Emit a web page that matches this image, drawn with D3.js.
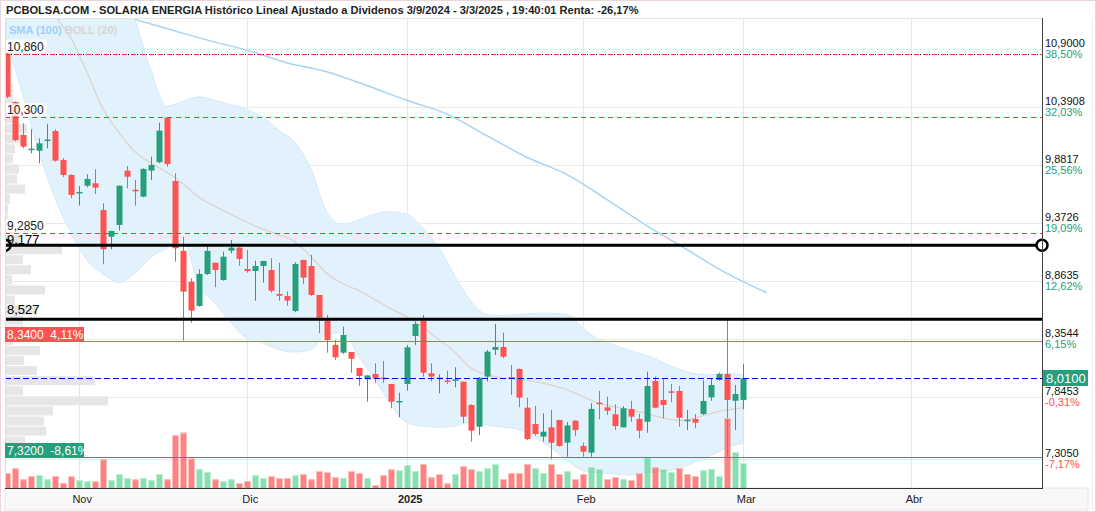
<!DOCTYPE html>
<html>
<head>
<meta charset="utf-8">
<script src="https://cdn.jsdelivr.net/npm/d3@7"></script>
<style>
body{margin:0;background:#fff}
svg{display:block;font-family:"Liberation Sans",Arial,sans-serif}
</style>
</head>
<body>
<svg id="chart" width="1096" height="512"></svg>
<script>
// daily candles, 21/10/2024 .. 3/3/2025 (one per trading day)
var opens  = [10.86,10.435,10.145,10.015,10.007,10.10,10.18,9.926,9.794,9.64,9.70,9.721,9.487,9.252,9.355,9.832,9.664,9.604,9.832,9.906,10.297,9.741,9.127,8.857,8.644,8.925,9.024,8.872,9.129,9.156,8.969,8.951,8.995,8.96,8.749,8.732,8.60,9.048,8.995,8.741,8.515,8.302,8.234,8.24,8.10,8.0,8.047,8.015,7.959,7.805,7.959,8.381,8.515,8.053,8.01,7.99,7.995,7.979,7.775,7.584,8.024,8.26,8.284,8.02,8.091,7.751,7.608,7.497,7.579,7.643,7.444,7.637,7.415,7.356,7.795,7.754,7.693,7.579,7.74,7.652,7.628,7.986,7.819,7.895,7.898,7.64,7.652,7.696,7.842,7.994,8.047,7.812,7.819]
var highs  = [10.87,10.44,10.248,10.195,10.116,10.242,10.195,9.941,9.80,9.697,9.80,9.844,9.546,9.305,9.70,9.873,9.75,9.853,9.955,10.253,10.30,9.809,9.252,8.887,8.966,9.165,9.024,9.121,9.223,9.16,9.136,9.042,9.04,9.063,9.024,8.77,9.027,9.05,9.092,8.741,8.565,8.345,8.462,8.24,8.10,8.035,8.141,8.161,7.96,7.883,8.302,8.506,8.565,8.141,8.044,8.076,8.106,7.98,7.78,8.02,8.258,8.486,8.41,8.126,8.095,7.839,7.766,7.702,7.731,7.645,7.626,7.64,7.444,7.79,7.898,7.848,7.781,7.766,7.812,7.696,8.067,8.024,8.001,7.959,7.942,7.731,7.696,7.992,8.009,8.058,8.521,7.95,8.135]
var lows   = [10.47,10.09,10.028,9.985,9.897,10.028,9.91,9.777,9.59,9.525,9.686,9.627,9.01,9.142,9.305,9.677,9.525,9.598,9.75,9.897,9.867,9.033,8.34,8.497,8.638,8.916,8.808,8.866,9.107,8.998,8.936,8.69,8.849,8.761,8.69,8.647,8.589,8.835,8.732,8.404,8.234,8.17,8.223,8.058,7.942,7.804,7.97,7.97,7.746,7.667,7.90,8.302,8.024,7.98,7.877,7.959,7.93,7.614,7.452,7.511,7.98,8.214,8.185,7.863,7.755,7.467,7.505,7.453,7.298,7.41,7.321,7.503,7.321,7.321,7.649,7.687,7.555,7.579,7.626,7.482,7.531,7.746,7.658,7.798,7.584,7.555,7.57,7.687,7.812,7.988,7.32,7.555,7.737]
var closes = [10.48,10.10,10.043,10.025,10.072,10.105,9.92,9.794,9.619,9.645,9.759,9.683,9.142,9.302,9.70,9.779,9.660,9.847,9.882,10.183,9.891,9.151,8.77,8.603,8.925,9.127,8.96,9.077,9.156,9.057,8.951,8.995,9.039,8.778,8.734,8.691,9.013,8.893,8.741,8.541,8.345,8.194,8.39,8.181,8.029,8.035,8.009,8.005,7.804,7.81,8.281,8.486,8.058,8.024,8.015,7.985,8.0,7.672,7.549,8.014,8.243,8.284,8.199,8.013,7.839,7.476,7.52,7.54,7.444,7.415,7.596,7.555,7.365,7.74,7.79,7.725,7.59,7.746,7.672,7.549,7.942,7.751,7.775,7.89,7.663,7.645,7.619,7.81,7.95,8.047,7.819,7.871,8.01]
// volume, relative units
var volumes = [15,19.7,8.7,12,13,8.7,12,5,11.7,7.7,6.7,6.7,28.7,7.7,14,10,8.7,10,7.7,14,8.7,53,55.3,29.5,18.7,16,8.7,6.7,8.7,5,7,12.7,10,12,10,10,12.7,14,8.7,17,16,10.7,10,17,15,10,3,13,18.7,17.7,23,17,24,10.7,14,4.7,14,21.7,18.7,16.7,19.7,24,9,15,15,24,20,15,24,14,17,9,14,21,19,9,11,9,8,15,30.7,20.7,19,16,20,14,12,17.7,19,12,70,36,25]

// Bollinger (20)
var bandIdx   = [0,2,4,6,8,10,12,14,16,18,20,22,24,26,28,30,32,34,36,38,40,42,44,46,48,50,52,54,56,58,60,62,64,66,68,70,72,74,76,78,80,82,84,86,88,90,92]
var bollUpper = [13.0,12.9,12.8,12.7,12.6,12.3,11.95,11.6,11.17,10.72,10.40,10.44,10.48,10.45,10.41,10.37,10.30,10.19,10.08,9.85,9.47,9.36,9.40,9.45,9.47,9.45,9.33,9.16,8.91,8.69,8.57,8.56,8.57,8.58,8.58,8.57,8.45,8.35,8.30,8.25,8.21,8.15,8.09,8.05,8.04,8.05,8.04]
var bollMid   = [12.0,11.8,11.5,11.2,11.0,10.70,10.38,10.17,10.0,9.90,9.82,9.72,9.60,9.52,9.45,9.38,9.32,9.27,9.21,9.08,8.93,8.84,8.78,8.70,8.62,8.55,8.46,8.35,8.24,8.10,8.04,8.01,8.0,7.98,7.95,7.91,7.85,7.79,7.76,7.73,7.70,7.66,7.64,7.66,7.70,7.73,7.75]
var bollLower = [10.98,10.5,10.0,9.60,9.29,9.05,8.93,8.85,8.93,9.07,9.15,9.22,8.83,8.67,8.50,8.36,8.32,8.26,8.24,8.26,8.40,8.41,8.20,8.00,7.78,7.62,7.59,7.58,7.59,7.62,7.60,7.58,7.56,7.49,7.40,7.29,7.20,7.18,7.17,7.16,7.18,7.19,7.22,7.27,7.33,7.40,7.44]

var smaIdx = [16,20,25,30,35,40,45,50,55,60,65,70,75,80,85,90,95]
var sma100 = [11.16,11.08,10.98,10.89,10.78,10.70,10.58,10.45,10.33,10.14,9.95,9.80,9.58,9.35,9.14,8.93,8.76]

var monthIdx = [9, 30, 50, 72, 92, 113]
var monthLabels = ['Nov', 'Dic', '2025', 'Feb', 'Mar', 'Abr']

var yTicks = [10.9, 10.3908, 9.8817, 9.3726, 8.8635, 8.3544, 7.8453, 7.305]
var yTickLabels = ['10,9000', '10,3908', '9,8817', '9,3726', '8,8635', '8,3544', '7,8453', '7,3050']
var yTickPct = ['38,50%', '32,03%', '25,56%', '19,09%', '12,62%', '6,15%', '-0,31%', '-7,17%']

// volume profile, 40 rows from 7,32 up to 10,86
var profileLo = 7.32, profileHi = 10.86
var profileVol = [40,20,41,39,48,103,18,90,32,19,35,8,20,18,32,10,40,7,26,18,57,15,10,3,3,5,20,12,14,8,10,18,22,10,8,8,8,3,3,3]

var dashLevels = [10.86, 10.30, 9.285]
var dashLabels = ['10,860', '10,300', '9,2850']
var blackLevels = [9.177, 8.527]
var blackLabels = ['9,177', '8,527']
var hiLevel = 8.34, hiLabel = '8,3400  4,11%'
var loLevel = 7.32, loLabel = '7,3200  -8,61%'
var lastLevel = 8.01, lastLabel = '8,0100'

var title = 'PCBOLSA.COM - SOLARIA ENERGIA Histórico Lineal Ajustado a Dividenos 3/9/2024 - 3/3/2025 , 19:40:01 Renta: -26,17%'

var red = '#ff5252', green = '#26a07c'
var p = {left: 5, right: 1042, top: 18, bottom: 488}

var svg = d3.select('#chart')
var x = d3.scaleLinear().domain([0, 92]).range([6.7, 742.7])
var y = d3.scaleLinear().domain([7.305, 10.9]).range([458.5, 49])
var yv = d3.scaleLinear().domain([0, 70]).range([p.bottom, 418])

svg.append('rect').attr('x', 0.5).attr('y', 0.5).attr('width', 1095).attr('height', 511)
  .attr('fill', '#fff').attr('stroke', '#ead6d6')

svg.append('defs').append('clipPath').attr('id', 'plotclip')
  .append('rect').attr('x', p.left).attr('y', p.top)
  .attr('width', p.right - p.left).attr('height', p.bottom - p.top)

// x axis strip
svg.append('rect').attr('x', p.left).attr('y', p.bottom).attr('width', 1088 - p.left).attr('height', 22)
  .attr('fill', '#f8f8f8').attr('stroke', '#e6e6e6')
svg.append('line').attr('x1', 1092.5).attr('x2', 1092.5).attr('y1', p.top).attr('y2', 510).attr('stroke', '#eee')

var g = svg.append('g').attr('clip-path', 'url(#plotclip)')

// grid
g.selectAll('line.hg').data(yTicks).join('line')
  .attr('x1', p.left).attr('x2', p.right)
  .attr('y1', d => Math.round(y(d)) + 0.5).attr('y2', d => Math.round(y(d)) + 0.5)
  .attr('stroke', '#e9e9e9')
g.selectAll('line.vg').data(monthIdx).join('line')
  .attr('x1', d => Math.round(x(d)) + 0.5).attr('x2', d => Math.round(x(d)) + 0.5)
  .attr('y1', p.top).attr('y2', p.bottom)
  .attr('stroke', '#e6e6e6')

// bollinger band
var band = bandIdx.map((d, i) => ({i: d, u: bollUpper[i], m: bollMid[i], l: bollLower[i]}))
g.append('path').datum(band)
  .attr('d', d3.area().x(d => x(d.i)).y0(d => y(d.l)).y1(d => y(d.u)).curve(d3.curveMonotoneX))
  .attr('fill', '#e2f2fc').attr('stroke', '#d3eaf9').attr('stroke-width', 1)
g.append('path').datum(band)
  .attr('d', d3.line().x(d => x(d.i)).y(d => y(d.m)).curve(d3.curveMonotoneX))
  .attr('fill', 'none').attr('stroke', '#ddd6d2').attr('stroke-width', 1.5)

// sma 100
g.append('path').datum(smaIdx.map((d, i) => [d, sma100[i]]))
  .attr('d', d3.line().x(d => x(d[0])).y(d => y(d[1])).curve(d3.curveMonotoneX))
  .attr('fill', 'none').attr('stroke', '#a6d3f6').attr('stroke-width', 1.5)

// volume profile
var step = (profileHi - profileLo) / profileVol.length
g.selectAll('rect.vp').data(profileVol).join('rect')
  .attr('x', p.left)
  .attr('y', (d, k) => y(profileLo + (k + 1) * step))
  .attr('width', d => d)
  .attr('height', (d, k) => y(profileLo + k * step) - y(profileLo + (k + 1) * step) - 1)
  .attr('fill', '#e6e6e6')

// candles
var idx = d3.range(opens.length)
var cg = g.selectAll('g.c').data(idx).join('g')
cg.append('line')
  .attr('x1', i => Math.round(x(i)) + 0.5).attr('x2', i => Math.round(x(i)) + 0.5)
  .attr('y1', i => y(highs[i])).attr('y2', i => y(lows[i]))
  .attr('stroke', i => closes[i] >= opens[i] ? green : red)
cg.append('rect')
  .attr('x', i => Math.round(x(i)) - 2.5)
  .attr('width', 6)
  .attr('y', i => y(Math.max(opens[i], closes[i])))
  .attr('height', i => Math.max(1.5, Math.abs(y(opens[i]) - y(closes[i]))))
  .attr('fill', i => closes[i] >= opens[i] ? green : red)

// volumes (colour from close vs previous close)
var up = i => i > 0 && closes[i] >= closes[i - 1]
g.selectAll('rect.v').data(idx).join('rect')
  .attr('x', i => Math.round(x(i)) - 2.5).attr('width', 6)
  .attr('y', i => yv(volumes[i])).attr('height', i => p.bottom - yv(volumes[i]))
  .attr('fill', i => up(i) ? 'rgba(80,210,140,0.68)' : 'rgba(255,82,82,0.72)')
g.selectAll('rect.vt').data(idx).join('rect')
  .attr('x', i => Math.round(x(i)) - 2.5).attr('width', 6)
  .attr('y', i => yv(volumes[i])).attr('height', 1)
  .attr('fill', i => up(i) ? '#b8efd0' : '#ffc0c0')

// level lines
var lg = svg.append('g').attr('clip-path', 'url(#plotclip)')
lg.append('line').attr('x1', p.left).attr('x2', p.right)
  .attr('y1', Math.round(y(dashLevels[0])) + 0.5).attr('y2', Math.round(y(dashLevels[0])) + 0.5)
  .attr('stroke', '#000').attr('stroke-dasharray', '1,2')
lg.selectAll('line.dl').data(dashLevels).join('line')
  .attr('x1', p.left).attr('x2', p.right)
  .attr('y1', d => Math.round(y(d)) + 0.5).attr('y2', d => Math.round(y(d)) + 0.5)
  .attr('stroke', '#f33').attr('stroke-dasharray', '5,4')

lg.selectAll('line.bl').data(blackLevels).join('line')
  .attr('x1', p.left).attr('x2', p.right)
  .attr('y1', d => y(d)).attr('y2', d => y(d))
  .attr('stroke', '#000').attr('stroke-width', 3)

lg.append('line').attr('x1', p.left).attr('x2', p.right)
  .attr('y1', Math.round(y(hiLevel)) + 0.5).attr('y2', Math.round(y(hiLevel)) + 0.5)
  .attr('stroke', red)
lg.append('line').attr('x1', p.left).attr('x2', p.right)
  .attr('y1', Math.round(y(loLevel)) + 0.5).attr('y2', Math.round(y(loLevel)) + 0.5)
  .attr('stroke', green)
lg.append('line').attr('x1', p.left).attr('x2', p.right)
  .attr('y1', Math.round(y(lastLevel)) + 0.5).attr('y2', Math.round(y(lastLevel)) + 0.5)
  .attr('stroke', '#0000ff').attr('stroke-dasharray', '6,3')

// ring markers on the 9,177 line
lg.append('circle').attr('cx', p.left).attr('cy', y(blackLevels[0])).attr('r', 5.5)
  .attr('fill', 'none').attr('stroke', '#000').attr('stroke-width', 2.5)
svg.append('circle').attr('cx', p.right).attr('cy', y(blackLevels[0])).attr('r', 5.5)
  .attr('fill', '#fff').attr('stroke', '#000').attr('stroke-width', 2.5)

// frame
svg.append('line').attr('x1', p.left + 0.5).attr('x2', p.left + 0.5).attr('y1', p.top).attr('y2', p.bottom).attr('stroke', '#ddd')
svg.append('line').attr('x1', p.left).attr('x2', p.right).attr('y1', p.top + 0.5).attr('y2', p.top + 0.5).attr('stroke', '#e4e4e4')
svg.append('line').attr('x1', p.right + 0.5).attr('x2', p.right + 0.5).attr('y1', p.top).attr('y2', p.bottom).attr('stroke', '#444')
svg.append('line').attr('x1', p.left).attr('x2', p.right + 1).attr('y1', p.bottom + 0.5).attr('y2', p.bottom + 0.5).attr('stroke', '#333')

// left level labels
dashLevels.forEach((d, i) => {
  var t = svg.append('text').attr('x', 7).attr('y', y(d) - 3).attr('font-size', 12).attr('fill', '#222').text(dashLabels[i])
  var w = t.node().getComputedTextLength()
  svg.insert('rect', () => t.node()).attr('x', p.left + 1).attr('y', y(d) - 14).attr('width', w + 4).attr('height', 13)
    .attr('fill', 'rgba(255,255,255,0.85)')
})
var blackOff = [-1.5, -5]
blackLevels.forEach((d, i) => {
  svg.append('text').attr('x', 7).attr('y', y(d) + blackOff[i]).attr('font-size', 13).attr('fill', '#000').text(blackLabels[i])
})

function boxLabel(level, label, fill) {
  var yy = Math.round(y(level))
  svg.append('rect').attr('x', p.left).attr('y', yy - 14).attr('width', 79).attr('height', 15).attr('fill', fill)
  svg.append('text').attr('x', 7).attr('y', yy - 2).attr('font-size', 12).attr('fill', '#fff')
    .attr('xml:space', 'preserve').style('white-space', 'pre').text(label)
}
boxLabel(hiLevel, hiLabel, red)
boxLabel(loLevel, loLabel, green)

// right axis
var ax = svg.append('g')
ax.selectAll('text.tv').data(yTicks).join('text')
  .attr('x', p.right + 3).attr('y', d => y(d) - 2)
  .attr('font-size', 11).attr('fill', '#111')
  .text((d, i) => yTickLabels[i])
ax.selectAll('text.tp').data(yTicks).join('text')
  .attr('x', p.right + 3).attr('y', d => y(d) + 9)
  .attr('font-size', 11).attr('fill', (d, i) => yTickPct[i][0] == '-' ? red : green)
  .text((d, i) => yTickPct[i])

var ly = Math.round(y(lastLevel))
svg.append('rect').attr('x', p.right + 1).attr('y', ly - 8).attr('width', 45).attr('height', 16).attr('fill', green)
svg.append('text').attr('x', p.right + 4).attr('y', ly + 5).attr('font-size', 13).attr('fill', '#fff').text(lastLabel)

// x axis
var xAxis = d3.axisBottom(x).tickValues(monthIdx).tickFormat((d, i) => monthLabels[i]).tickSize(0).tickPadding(7)
var xg = svg.append('g').attr('transform', `translate(3,${p.bottom})`).call(xAxis)
xg.select('.domain').remove()
xg.selectAll('text').attr('font-size', 11).attr('fill', '#222')
  .attr('font-family', '"Liberation Sans",Arial,sans-serif')
  .attr('font-weight', (d, i) => monthLabels[i] == '2025' ? 'bold' : 'normal')

// legend + title
var leg = svg.append('text').attr('x', 9).attr('y', 34).attr('font-size', 11).attr('font-weight', 'bold')
leg.append('tspan').attr('fill', '#a0cff5').text('SMA (100) ')
leg.append('tspan').attr('fill', '#d6d6d6').text('BOLL (20)')

svg.append('rect').attr('x', 1).attr('y', 1).attr('width', 1094).attr('height', 17).attr('fill', '#fff')
svg.append('text').attr('x', 6).attr('y', 14).attr('font-size', 11.1).attr('font-weight', 'bold').attr('fill', '#222')
  .text(title)
</script>
</body>
</html>
